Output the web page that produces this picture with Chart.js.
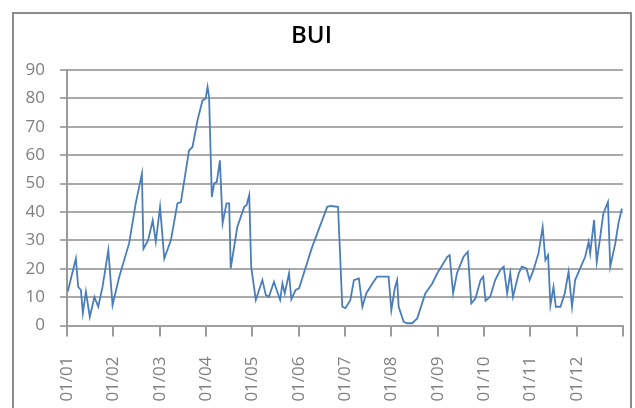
<!DOCTYPE html>
<html>
<head>
<meta charset="utf-8">
<script src="https://cdn.jsdelivr.net/npm/chart.js@4/dist/chart.umd.min.js"></script>
<style>
  html, body { margin: 0; padding: 0; background: #ffffff; }
  #wrap { position: relative; width: 635px; height: 408px; }
</style>
</head>
<body>
<div id="wrap"><canvas id="bui" width="635" height="408"></canvas></div>
<script>
// Sample positions, in months counted from January 2001
const sampleMonths = [
  0.2, 2.3, 2.9, 3.6, 4.1, 4.9, 5.9, 7.1, 8.1, 9.2, 10.7, 11.8,
  13.5, 16.1, 17.8, 19.4, 19.8, 21.0, 22.2, 23.0, 24.1, 24.3,
  25.2, 26.9, 28.6, 29.5, 31.6, 32.5, 33.8, 35.1, 35.9, 36.4, 36.8,
  37.5, 38.1, 38.8, 39.6, 40.3, 41.3, 42.0, 42.4, 44.1, 45.9, 46.5, 47.2,
  47.7, 48.9, 50.6, 51.5, 52.3, 53.6, 54.3, 55.2, 55.8, 56.4, 57.5, 58.1,
  59.2, 60.1, 63.5, 67.4, 68.3, 70.2, 71.3, 72.1, 73.4, 74.3, 75.6,
  76.5, 77.5, 79.1, 80.3, 83.3, 84.0, 84.9, 85.5, 85.9, 87.2, 88.1,
  89.4, 90.7, 92.8, 94.6, 95.9, 98.5, 99.1, 100.0, 101.0, 102.7, 103.8,
  104.7, 105.8, 107.1, 107.8, 108.4, 109.6, 110.9, 112.2, 113.1, 114.0,
  114.8, 115.5, 117.0, 117.8, 119.0, 119.8, 120.8, 122.1, 123.2, 123.9,
  124.6, 125.2, 126.0, 126.6, 127.8, 128.9, 129.9, 130.8, 131.6, 132.9,
  134.2, 135.1, 135.5, 136.5, 137.2, 138.1, 138.9, 140.1, 140.7, 142.0,
  142.8, 143.7
];

// BUI readings at those positions
const buiValues = [
  12, 23.6, 13.6, 12.5, 4.4, 11.9, 3, 10, 6.6, 13.6, 26.5, 7.2,
  17, 29, 43, 53.5, 27, 30, 37, 29.5, 41.8, 41.8,
  23.6, 30, 43, 43.5, 61.7, 62.9, 72.3, 79.3, 79.9, 84, 80.5,
  45.3, 50, 50.6, 58.2, 36, 43, 43, 20.1, 34.7, 41.8, 42.4, 46,
  20.7, 9, 16, 10.7, 10.1, 15.4, 12.5, 9, 14.8, 11.3, 18.4, 9.2,
  12.5, 13.1, 27.7, 41.8, 42.1, 41.8, 6.6, 6.1, 9, 16, 16.6,
  6.6, 11.3, 14.8, 17.2, 17.2, 5.4, 13.1, 16, 6.6, 1.3, 0.8,
  0.8, 2.5, 11.3, 14.8, 18.4, 24.2, 24.8, 11.3, 18.4, 24.2, 26,
  7.8, 9.6, 16, 17.2, 8.7, 10.1, 16, 19.5, 20.7, 11.3,
  18.4, 10.1, 18.4, 20.7, 20.1, 16, 19.5, 25.4, 34.7, 23,
  24.8, 7.2, 13.6, 6.6, 6.6, 11.3, 18.9, 6.6, 16, 20.1,
  24.2, 29.5, 25.4, 37.1, 22.4, 31.2, 39.4, 43.5, 20.7, 28.9,
  35.9, 41.2
];

// One label per January
const yearLabels = ['01/01', '01/02', '01/03', '01/04', '01/05', '01/06',
                    '01/07', '01/08', '01/09', '01/10', '01/11', '01/12'];

const points = sampleMonths.map((m, i) => ({ x: m, y: buiValues[i] }));

// Grey frame around the whole chart
const framePlugin = {
  id: 'frame',
  beforeDraw(chart) {
    const ctx = chart.ctx;
    ctx.save();
    ctx.fillStyle = '#ffffff';
    ctx.fillRect(0, 0, chart.width, chart.height);
    ctx.strokeStyle = '#8c8c8c';
    ctx.lineWidth = 2;
    ctx.strokeRect(13, 13, 618, 430);
    ctx.restore();
  }
};

const tickFont = { family: '"Open Sans", sans-serif', size: 17 };

new Chart(document.getElementById('bui'), {
  type: 'line',
  data: {
    datasets: [{
      label: 'BUI',
      data: points,
      borderColor: '#4a7ebb',
      borderWidth: 1.8,
      pointRadius: 0,
      tension: 0,
      fill: false
    }]
  },
  options: {
    responsive: false,
    animation: false,
    layout: { padding: { left: 0, right: 12, top: 0, bottom: 0 } },
    plugins: {
      legend: { display: false },
      tooltip: { enabled: false },
      title: {
        display: true,
        text: 'BUI',
        color: '#000000',
        font: { family: '"Open Sans", sans-serif', size: 24, weight: '600' },
        padding: { top: 22, bottom: 19.2 }
      }
    },
    scales: {
      x: {
        type: 'linear',
        min: 0,
        max: 144,
        afterFit(scale) {
          scale.height = 82.5;
          scale.paddingLeft = 0;
          scale.paddingRight = 0;
        },
        afterBuildTicks(scale) {
          scale.ticks = [];
          for (let i = 0; i <= yearLabels.length; i++) scale.ticks.push({ value: i * 12 });
        },
        ticks: {
          autoSkip: false,
          minRotation: 90,
          maxRotation: 90,
          padding: 20,
          color: '#808080',
          font: tickFont,
          callback(value) {
            const idx = Math.round(value / 12);
            return yearLabels[idx] !== undefined ? yearLabels[idx] : '';
          }
        },
        grid: {
          display: true,
          drawOnChartArea: false,
          drawTicks: true,
          tickLength: 11,
          color: '#9a9a9a',
          lineWidth: 2
        },
        border: { display: true, color: '#a0a0a0', width: 2 }
      },
      y: {
        min: 0,
        max: 90,
        afterFit(scale) {
          scale.width = 67;
          scale.paddingTop = 0;
          scale.paddingBottom = 0;
        },
        ticks: {
          stepSize: 10,
          padding: 15,
          color: '#808080',
          font: tickFont
        },
        grid: {
          color: '#aaaaaa',
          lineWidth: 2,
          tickLength: 7
        },
        border: { display: true, color: '#9a9a9a', width: 2 }
      }
    }
  },
  plugins: [framePlugin]
});
</script>
</body>
</html>
